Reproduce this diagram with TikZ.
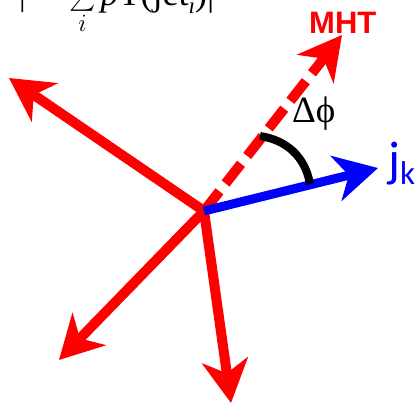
\documentclass[tikz,border=0pt]{standalone}
\usepackage{exscale}
\usepackage{fontspec}
\usetikzlibrary{arrows.meta}
\newfontfamily\serifTNR{Liberation Serif}
\newfontfamily\arialfont{Liberation Sans}
\newfontfamily\calfont{Carlito}
\tikzset{
  vec/.style={line width=10pt, -{Stealth[length=43pt,width=46pt,inset=13pt]}},
  redvec/.style={vec, draw={rgb,255:red,255;green,0;blue,0}},
  bluevec/.style={vec, line width=9pt, draw={rgb,255:red,0;green,0;blue,255}},
  mhtvec/.style={redvec, dash pattern=on 25pt off 10pt},
  anglearc/.style={line width=8pt, draw=black},
}
\begin{document}
\begin{tikzpicture}[x=1pt,y=-1pt]
\useasboundingbox (0,0) rectangle (417,405);
\clip (0,0) rectangle (417,405);
% cut-off formula at the top
\node[anchor=base west, inner sep=0pt] (formula) at (19,5)
  {\serifTNR\fontsize{33}{36}\selectfont |\hspace{11pt}−\hspace{14pt}$\textstyle\sum\limits_i$\hspace{5pt}{\fontsize{36}{38}\selectfont\textit{p}T(jet\raisebox{-8pt}{\fontsize{23}{24}\selectfont\textit{i}})|}};
\coordinate (O) at (204,211);
\coordinate (ul) at (9,78);
\coordinate (ll) at (59,360);
\coordinate (dn) at (231,403);
\coordinate (mht) at (342,35);
\coordinate (jk) at (378,168);
\coordinate (a1) at (260,136);
\coordinate (a2) at (310,184);
\draw[redvec] (O) -- (ul);
\draw[redvec] (O) -- (ll);
\draw[redvec] (O) -- (dn);
\draw[mhtvec] (O) -- (mht);
\draw[bluevec] (O) -- (jk);
\draw[anglearc] (a1) .. controls (286,140) and (305,156) .. (a2);
\node[anchor=base west, inner sep=0pt, text={rgb,255:red,255;green,0;blue,0}] (mhtlabel) at (309,33)
  {\arialfont\bfseries\fontsize{31}{32}\selectfont MHT};
\node[anchor=base west, inner sep=0pt] (dphi) at (292,122)
  {\serifTNR\fontsize{37}{40}\selectfont Δϕ};
\node[anchor=base west, inner sep=0pt, text={rgb,255:red,0;green,0;blue,255}] (jklabel) at (388,176)
  {\calfont\fontsize{50}{52}\selectfont j\raisebox{-8pt}{\fontsize{33}{34}\selectfont k}};
\end{tikzpicture}
\end{document}
